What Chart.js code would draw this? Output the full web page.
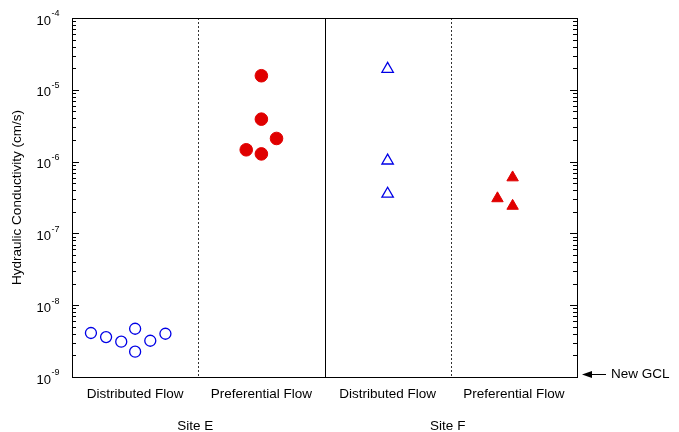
<!DOCTYPE html>
<html>
<head>
<meta charset="utf-8">
<script src="https://cdn.jsdelivr.net/npm/chart.js@4.4.1/dist/chart.umd.min.js"></script>
<style>
  html, body { margin: 0; padding: 0; background: #fff; }
  #wrap { width: 679px; height: 432px; position: relative; }
</style>
</head>
<body>
<div id="wrap"><canvas id="k-chart"></canvas></div>
<script>
// categories along x (one unit wide each, centred at 0.5, 1.5 ...)
const categories = ['Distributed Flow', 'Preferential Flow', 'Distributed Flow', 'Preferential Flow'];
const sites = ['Site E', 'Site F'];
const yExponents = [-9, -8, -7, -6, -5, -4];
const yTitle = 'Hydraulic Conductivity (cm/s)';
const noteText = 'New GCL';

// Site E - distributed flow (open circles)
const siteEDistX = [0.15, 0.27, 0.39, 0.5, 0.5, 0.62, 0.74];
const siteEDistK = [4.1e-9, 3.6e-9, 3.1e-9, 4.7e-9, 2.25e-9, 3.2e-9, 4.0e-9];
// Site E - preferential flow (filled circles)
const siteEPrefX = [1.5, 1.5, 1.62, 1.38, 1.5];
const siteEPrefK = [1.57e-5, 3.9e-6, 2.1e-6, 1.46e-6, 1.28e-6];
// Site F - distributed flow (open triangles)
const siteFDistX = [2.5, 2.5, 2.5];
const siteFDistK = [1.95e-5, 1.03e-6, 3.55e-7];
// Site F - preferential flow (filled triangles)
const siteFPrefX = [3.49, 3.37, 3.49];
const siteFPrefK = [6.0e-7, 3.07e-7, 2.41e-7];

const FONT = '"Liberation Sans", Arial, sans-serif';
const BLUE = '#0000e6';
const RED = '#e00000';

const pts = (xs, ys) => xs.map((x, i) => ({ x, y: ys[i] }));

const decorPlugin = {
    id: 'decor',
    beforeDatasetsDraw(chart) {
        const { ctx, chartArea: a, scales: { x, y } } = chart;
        ctx.save();
        // category dividers
        ctx.strokeStyle = '#333';
        ctx.lineWidth = 1;
        [1, 3].forEach(v => {
            const px = Math.round(x.getPixelForValue(v)) + 0.5;
            ctx.setLineDash([2, 2]);
            ctx.beginPath(); ctx.moveTo(px, a.top); ctx.lineTo(px, a.bottom); ctx.stroke();
        });
        ctx.setLineDash([]);
        ctx.strokeStyle = '#000';
        const mid = Math.round(x.getPixelForValue(2)) + 0.5;
        ctx.beginPath(); ctx.moveTo(mid, a.top); ctx.lineTo(mid, a.bottom); ctx.stroke();

        // frame
        ctx.strokeRect(Math.round(a.left) + 0.5, Math.round(a.top) + 0.5,
            Math.round(a.right - a.left), Math.round(a.bottom - a.top));

        // log ticks, inward on left and right
        for (let e = yExponents[0]; e < yExponents[yExponents.length - 1]; e++) {
            for (let m = 1; m <= 9; m++) {
                const py = Math.round(y.getPixelForValue(m * Math.pow(10, e))) + 0.5;
                const len = m === 1 ? 7 : 4;
                ctx.beginPath();
                ctx.moveTo(a.left, py); ctx.lineTo(a.left + len, py);
                ctx.moveTo(a.right, py); ctx.lineTo(a.right - len, py);
                ctx.stroke();
            }
        }

        // y tick labels 10^n
        ctx.fillStyle = '#000';
        yExponents.forEach(e => {
            const py = y.getPixelForValue(Math.pow(10, e));
            ctx.font = '13px ' + FONT;
            ctx.textAlign = 'right';
            ctx.textBaseline = 'middle';
            ctx.fillText('10', 51, py + 3);
            ctx.font = '9px ' + FONT;
            ctx.textAlign = 'left';
            ctx.fillText(String(e), 51.5, py - 4);
        });

        // y title
        ctx.save();
        ctx.translate(17, (a.top + a.bottom) / 2);
        ctx.rotate(-Math.PI / 2);
        ctx.font = '13.5px ' + FONT;
        ctx.textAlign = 'center';
        ctx.textBaseline = 'middle';
        ctx.fillText(yTitle, 0, 0);
        ctx.restore();

        // category and site labels
        ctx.font = '13.5px ' + FONT;
        ctx.textAlign = 'center';
        ctx.textBaseline = 'middle';
        categories.forEach((c, i) => ctx.fillText(c, x.getPixelForValue(i + 0.5), 394));
        sites.forEach((s, i) => ctx.fillText(s, x.getPixelForValue(i * 2 + 1) - 3, 426));

        // "New GCL" arrow at 1e-9
        const ay = 374;
        ctx.beginPath(); ctx.moveTo(588, ay + 0.5); ctx.lineTo(606, ay + 0.5); ctx.stroke();
        ctx.beginPath();
        ctx.moveTo(582, ay + 0.5); ctx.lineTo(592, ay - 3); ctx.lineTo(592, ay + 4); ctx.closePath();
        ctx.fill();
        ctx.textAlign = 'left';
        ctx.fillText(noteText, 611, ay + 0.5);
        ctx.restore();
    },
};

new Chart(document.getElementById('k-chart'), {
    type: 'scatter',
    data: {
        datasets: [
            { data: pts(siteEDistX, siteEDistK), pointStyle: 'circle', pointRadius: 5.5,
              borderColor: BLUE, backgroundColor: 'rgba(0,0,0,0)', borderWidth: 1.3 },
            { data: pts(siteEPrefX, siteEPrefK), pointStyle: 'circle', pointRadius: 6.3,
              borderColor: RED, backgroundColor: RED, borderWidth: 1 },
            { data: pts(siteFDistX, siteFDistK), pointStyle: 'triangle', pointRadius: 6.6,
              borderColor: BLUE, backgroundColor: 'rgba(0,0,0,0)', borderWidth: 1.3 },
            { data: pts(siteFPrefX, siteFPrefK), pointStyle: 'triangle', pointRadius: 6.6,
              borderColor: RED, backgroundColor: RED, borderWidth: 1 },
        ],
    },
    options: {
        responsive: true,
        maintainAspectRatio: false,
        animation: false,
        layout: { autoPadding: false, padding: { left: 0, top: 18, right: 102, bottom: 0 } },
        plugins: { legend: { display: false }, tooltip: { enabled: false } },
        scales: {
            x: {
                type: 'linear', min: 0, max: 4,
                ticks: { display: false },
                grid: { display: false },
                border: { display: false },
                afterFit: s => { s.height = 55; },
            },
            y: {
                type: 'logarithmic', min: 1e-9, max: 1e-4,
                ticks: { display: false },
                grid: { display: false },
                border: { display: false },
                afterFit: s => { s.width = 72; },
            },
        },
    },
    plugins: [decorPlugin],
});
</script>
</body>
</html>
